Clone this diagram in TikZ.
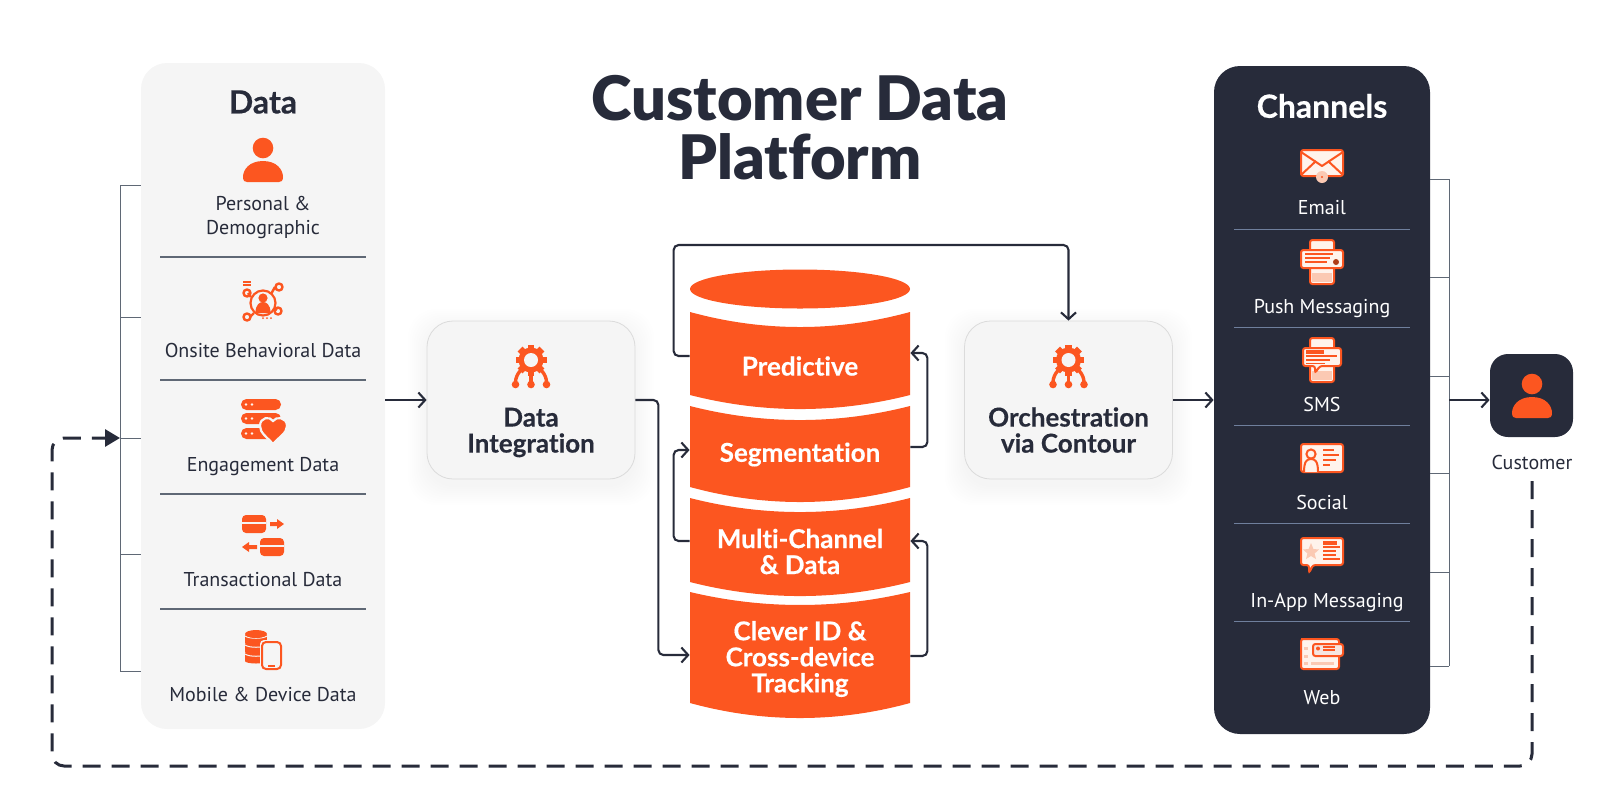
\documentclass[tikz,border=0pt]{standalone}
\usepackage{fontspec}
\usetikzlibrary{arrows.meta,calc}
\newfontfamily\latofont[Ligatures=NoCommon,BoldFeatures={FakeBold=0.35}]{Lato}
\newfontfamily\latoheavy[Ligatures=NoCommon]{Lato Black}
\newfontfamily\ptfont{PT Sans}
\definecolor{brandorange}{HTML}{FC5620}
\definecolor{brandnavy}{HTML}{272B3A}
\definecolor{panelgrey}{HTML}{F5F5F5}
\definecolor{ruleslate}{HTML}{5F6875}
\definecolor{rulesteel}{HTML}{6F7F9C}
\definecolor{iconcream}{HTML}{FFF3EC}
\definecolor{iconpink}{HTML}{FBC9B3}
\tikzset{
  ofill/.style={fill=brandorange,draw=none},
  oline/.style={draw=brandorange,line width=1pt,line join=round},
  cardicon/.style={draw=brandorange,fill=iconcream,line width=1pt,rounded corners=1.2pt},
  panelbox/.style={rectangle,rounded corners=13pt,minimum width=#1,inner sep=0pt},
  softbox/.style={rectangle,rounded corners=13pt,fill=panelgrey,draw=black!14,line width=.4pt,minimum width=104pt,minimum height=79pt,inner sep=0pt},
  headtext/.style={font=\latofont\bfseries\fontsize{16}{16}\selectfont,text=brandnavy,inner sep=0pt},
  boxtext/.style={font=\latofont\bfseries\fontsize{13}{13}\selectfont,text=brandnavy,align=center,inner sep=0pt},
  segtext/.style={font=\latofont\bfseries\fontsize{13}{13}\selectfont,text=white,align=center,inner sep=0pt,minimum width=110pt},
  itemtext/.style={font=\ptfont\fontsize{10}{12}\selectfont,text=brandnavy,align=center,inner sep=0pt},
  chantext/.style={font=\ptfont\fontsize{10}{12.2}\selectfont,text=white,align=center,inner sep=0pt},
  conn/.style={draw=brandnavy,line width=1.05pt,rounded corners=2.5pt,-{Straight Barb[length=3.4pt,width=7.5pt,line width=1.05pt]}},
  bracket/.style={draw=ruleslate,line width=.5pt},
  datarule/.style={draw=ruleslate,line width=.55pt},
  chanrule/.style={draw=rulesteel,line width=.45pt},
  dashedconn/.style={draw=brandnavy,line width=1.5pt,rounded corners=6pt,dash pattern=on 9pt off 5.5pt,-{Triangle[length=7.5pt,width=8.5pt]}}
}
\newcommand{\softshadow}[4]{%
  \foreach \d in {1,3,...,19}{%
    \fill[black,opacity=.004,rounded corners=14pt] ($(#1,#2)+(-\d,-\d+7)$) rectangle ($(#3,#4)+(\d,\d+7)$);}}
\newcommand{\personicon}[2]{\begin{scope}[shift={(#1,#2)}]
  \fill[brandorange] (0,-14) circle (10.3);
  \fill[brandorange] (-20,15) .. controls (-20,8) and (-14,-1) .. (0,-1) .. controls (14,-1) and (20,8) .. (20,15) .. controls (20,19) and (18,20) .. (16,20) -- (-16,20) .. controls (-18,20) and (-20,19) .. (-20,15) -- cycle;
\end{scope}}
\newcommand{\gearicon}[2]{\begin{scope}[shift={(#1,#2)}]
  \foreach \a in {0,45,...,315}{\fill[brandorange,rotate=\a] (-3.4,-15.5) rectangle (3.4,-9);}
  \fill[brandorange] (0,0) circle (12.5);
  \fill[panelgrey] (0,0) circle (7);
  \draw[brandorange,line width=1.7pt] (0,10) -- (0,24);
  \draw[brandorange,line width=1.7pt,rounded corners=3pt] (-8,8) -- (-15.5,16) -- (-15.5,24);
  \draw[brandorange,line width=1.7pt,rounded corners=3pt] (8,8) -- (15.5,16) -- (15.5,24);
  \foreach \x in {-15.5,0,15.5}{\fill[brandorange] (\x,24.5) circle (3.8);}
\end{scope}}
\newcommand{\onsiteicon}[2]{\begin{scope}[shift={(#1,#2)}]
  \draw[oline,line width=1.1pt] (0,1) circle (12.5);
  \fill[brandorange] (0,-4) circle (4.6);
  \fill[brandorange] (-7.5,11) .. controls (-7.5,2) and (-3,0) .. (0,0) .. controls (3,0) and (7.5,2) .. (7.5,11) -- cycle;
  \draw[oline,line width=1.2pt] (8,-8) -- (12,-15);
  \draw[oline,line width=1.2pt] (11,6) -- (14,8);
  \draw[oline,line width=1.2pt] (-12,-5) -- (-15,-9);
  \draw[oline,line width=1.2pt] (-9,11) -- (-13,15);
  \foreach \x/\y in {16/-15,15/9,-16/-9,-16/15}{\draw[oline,line width=1.2pt] (\x,\y) circle (3.5);}
  \foreach \y in {-20,-17}{\draw[oline,line width=.9pt] (-20,\y) -- (-12,\y);}
  \foreach \x in {0,4,8}{\fill[brandorange] (\x,16) circle (1);}
\end{scope}}
\newcommand{\engageicon}[2]{\begin{scope}[shift={(#1,#2)}]
  \foreach \y in {-15.5,-1.5,13.5}{
    \fill[brandorange,rounded corners=2.7pt] (-21,\y-5.5) rectangle (19,\y+5.5);
    \foreach \x in {-16,-10}{\fill[iconcream] (\x,\y) circle (1.3);}}
  \path[fill=brandorange,draw=panelgrey,line width=1.1pt] (11,24) .. controls (5,17) and (-2,13) .. (-2,6) .. controls (-2,-3) and (8,-4) .. (11,1) .. controls (14,-4) and (25,-3) .. (25,6) .. controls (25,13) and (17,17) .. (11,24) -- cycle;
\end{scope}}
\newcommand{\transicon}[2]{\begin{scope}[shift={(#1,#2)}]
  \fill[brandorange,rounded corners=2pt] (-21,-21) rectangle (3,-3);
  \fill[panelgrey] (-21,-14) rectangle (3,-12.5);
  \fill[brandorange,rounded corners=2pt] (-3,2) rectangle (21,20);
  \fill[panelgrey] (-3,9) rectangle (21,10.5);
  \fill[brandorange] (7,-14) -- (14,-14) -- (14,-17) -- (21,-12) -- (14,-7) -- (14,-10) -- (7,-10) -- cycle;
  \fill[brandorange] (-6,9) -- (-14,9) -- (-14,6) -- (-21,11) -- (-14,16) -- (-14,13) -- (-6,13) -- cycle;
\end{scope}}
\newcommand{\mobileicon}[2]{\begin{scope}[shift={(#1,#2)}]
  \foreach \y in {9,0,-9}{
    \fill[brandorange] (-18,\y-5) rectangle (4,\y+3);
    \fill[brandorange] (-7,\y+3) ellipse (11 and 2.5);
    \draw[panelgrey,line width=.5pt] (-18,\y-4) .. controls (-14,\y-1) and (0,\y-1) .. (4,\y-4);}
  \fill[brandorange] (-7,-15) ellipse (11 and 4);
  \fill[panelgrey,rounded corners=2pt] (-3,-9) rectangle (19,21);
  \draw[brandorange,line width=1pt,rounded corners=2pt] (-1,-7) rectangle (18,20);
  \fill[brandorange] (5,15.5) rectangle (12,17.5);
\end{scope}}
\newcommand{\emailicon}[2]{\begin{scope}[shift={(#1,#2)}]
  \draw[cardicon] (-21,-14) rectangle (21,12);
  \draw[oline] (-21,-12) -- (0,2) -- (21,-12);
  \draw[oline] (-21,11) -- (-6,-3);
  \draw[oline] (21,11) -- (6,-3);
  \fill[iconpink] (0,13) circle (6);
  \fill[brandorange] (0,13) circle (1.2);
\end{scope}}
\newcommand{\phonebody}{%
  \draw[cardicon] (-12,-22) rectangle (12,22);
  \fill[iconpink] (-10,11) rectangle (10,20);
  \draw[brandorange,line width=.6pt] (-10,6) -- (10,6);}
\newcommand{\pushicon}[2]{\begin{scope}[shift={(#1,#2)}]
  \phonebody
  \draw[cardicon] (-21,-12) rectangle (21,6);
  \foreach \y/\e in {-8/11,-4/8,0/5}{\draw[brandorange,line width=.8pt] (-17,\y) -- (\e,\y);}
  \fill[brandorange!70!black] (14,0) circle (3);
\end{scope}}
\newcommand{\smsicon}[2]{\begin{scope}[shift={(#1,#2)}]
  \phonebody
  \draw[cardicon] (-19,-12) -- (19,-12) -- (19,6) -- (-2,6) -- (-7,13) -- (-7,6) -- (-19,6) -- cycle;
  \fill[brandorange] (-16,-10) rectangle (2,-6.5);
  \foreach \y/\e in {-4/15,0/8,3.5/3}{\draw[brandorange,line width=.6pt] (-16,\y) -- (\e,\y);}
\end{scope}}
\newcommand{\socialicon}[2]{\begin{scope}[shift={(#1,#2)}]
  \draw[cardicon] (-21,-14) rectangle (21,14);
  \draw[oline,fill=iconcream] (-11,-4) circle (4.6);
  \draw[oline,fill=iconcream] (-18,14) .. controls (-18,3) and (-15,1) .. (-11,1) .. controls (-7,1) and (-4,3) .. (-4,14);
  \fill[brandorange] (1,-9) rectangle (12,-7.5);
  \fill[brandorange] (1,-4) rectangle (17,-2.5);
  \fill[brandorange] (1,1) rectangle (14,2.5);
  \fill[brandorange] (1,6) rectangle (8,7.5);
\end{scope}}
\newcommand{\inappicon}[2]{\begin{scope}[shift={(#1,#2)}]
  \draw[cardicon] (-21,-17) -- (21,-17) -- (21,10) -- (-9,10) -- (-13,18) -- (-13,10) -- (-21,10) -- cycle;
  \fill[iconpink] (-11,-12) -- (-8.6,-6) -- (-3,-5.5) -- (-7.4,-1.5) -- (-6,4) -- (-11,1) -- (-16,4) -- (-14.6,-1.5) -- (-19,-5.5) -- (-13.4,-6) -- cycle;
  \fill[brandorange] (1,-14) rectangle (15,-10.5);
  \foreach \y/\e in {-8/18,-4/14,0/14,4/18}{\draw[brandorange,line width=.7pt] (1,\y) -- (\e,\y);}
\end{scope}}
\newcommand{\webicon}[2]{\begin{scope}[shift={(#1,#2)}]
  \draw[cardicon] (-21,-15) rectangle (17,15);
  \fill[brandorange] (-21,-16) rectangle (-8,-14);
  \foreach \y in {-6,2,9}{\fill[iconpink] (-18,\y-1.5) rectangle (-14,\y+1.5);}
  \fill[iconpink] (-11,7.5) rectangle (12,10.5);
  \draw[cardicon,fill=panelgrey!90!brandorange] (-9,-10) rectangle (21,2);
  \fill[brandorange] (-4,-5.5) circle (2);
  \foreach \y in {-7,-4}{\draw[brandorange,line width=.6pt] (1,\y) -- (13,\y);}
\end{scope}}

\begin{document}
\begin{tikzpicture}[x=.5pt,y=-.5pt]
\useasboundingbox (0,0) rectangle (1600,800);

% title
\node[font=\latoheavy\fontsize{30.7}{29.5}\selectfont,text=brandnavy,align=center,inner sep=0pt] (title) at (800,128) {Customer Data\\Platform};

% Data panel
\node[panelbox=122pt,minimum height=333pt,fill=panelgrey] (data) at (263,396) {};
\node[headtext] (datahead) at (263,102) {Data};
\personicon{263}{162}
\node[itemtext] (personal) at (263,217.5) {Personal \&\\Demographic};
\onsiteicon{263}{302}
\node[itemtext] (onsite) at (263,350) {Onsite Behavioral Data};
\engageicon{262}{420}
\node[itemtext] (engage) at (263,467) {Engagement Data};
\transicon{263}{536}
\node[itemtext] (trans) at (263,580) {Transactional Data};
\mobileicon{263}{649}
\node[itemtext] (mobile) at (263,694) {Mobile \& Device Data};
\foreach \y [count=\i] in {257,380,494,609}{
  \coordinate (dl\i) at (160,\y);
  \draw[datarule] (dl\i) -- ++(206,0);
}

% left bracket
\coordinate (bl1) at (120,185);
\coordinate (bl2) at (120,317);
\coordinate (bl3) at (120,438);
\coordinate (bl4) at (120,554);
\coordinate (bl5) at (120,671);
\draw[bracket] (bl1) -- (bl5);
\foreach \i in {1,...,5}{\draw[bracket] (bl\i) -- (bl\i -| data.west);}

% Integration and Orchestration
\softshadow{427}{321}{635}{479}
\softshadow{964}{321}{1173}{479}
\node[softbox] (integ) at (531,400) {};
\gearicon{531}{360}
\node[boxtext] (integtext) at (531,432.5) {Data\\Integration};
\node[softbox] (orch) at (1068.5,400) {};
\gearicon{1068.5}{360}
\node[boxtext] (orchtext) at (1068.5,430) {Orchestration\\via Contour};

% Cylinder
\fill[brandorange] (800,289) ellipse (110 and 19.5);
\fill[brandorange] (690,312) .. controls (763,332) and (837,332) .. (910,312) -- (910,395) .. controls (837,413.7) and (763,413.7) .. (690,395) -- cycle;
\fill[brandorange] (690,406) .. controls (763,424.7) and (837,424.7) .. (910,406) -- (910,487) .. controls (837,507) and (763,507) .. (690,487) -- cycle;
\fill[brandorange] (690,498) .. controls (763,516.7) and (837,516.7) .. (910,498) -- (910,582) .. controls (837,600.7) and (763,600.7) .. (690,582) -- cycle;
\fill[brandorange] (690,592) .. controls (763,609.3) and (837,609.3) .. (910,592) -- (910,703) .. controls (837,723) and (763,723) .. (690,703) -- cycle;
\node[segtext] (pred) at (800,366) {Predictive};
\node[segtext] (segm) at (800,454.5) {Segmentation};
\node[segtext] (multi) at (800,551.5) {Multi-Channel\\\& Data};
\node[segtext] (clever) at (800,659) {Clever ID \&\\Cross-device\\Tracking};

% Channels panel
\node[panelbox=108pt,minimum height=334pt,fill=brandnavy] (chan) at (1322,400) {};
\node[headtext,text=white] (chanhead) at (1322,106) {Channels};
\emailicon{1322}{164}
\node[chantext] (email) at (1322,208) {Email};
\pushicon{1322}{262}
\node[chantext] (push) at (1322,309) {Push Messaging};
\smsicon{1322}{360}
\node[chantext] (sms) at (1322,404) {SMS};
\socialicon{1322}{458}
\node[chantext] (social) at (1322,502) {Social};
\inappicon{1322}{555}
\node[chantext] (inapp) at (1327,602) {In-App Messaging};
\webicon{1322}{654}
\node[chantext] (web) at (1322,698) {Web};
\foreach \y [count=\i] in {229,327,425,523,621}{
  \coordinate (cl\i) at (1234,\y);
  \draw[chanrule] (cl\i) -- ++(176,0);
}

% right bracket
\coordinate (br1) at (1449,179);
\coordinate (br2) at (1449,277);
\coordinate (br3) at (1449,376);
\coordinate (br4) at (1449,473);
\coordinate (br5) at (1449,572);
\coordinate (br6) at (1449,666);
\draw[bracket] (br1) -- (br6);
\foreach \i in {1,...,6}{\draw[bracket] (br\i -| chan.east) -- (br\i);}

% Customer
\node[rectangle,rounded corners=9pt,fill=brandnavy,minimum width=41.5pt,minimum height=41.5pt,inner sep=0pt] (cust) at (1531.5,395.5) {};
\personicon{1532}{398}
\node[itemtext] (custtext) at (1532,462) {Customer};

% connectors
\draw[conn] (integ.west -| data.east) -- (integ.west);
\draw[conn] (orch.east) -- (orch.east -| chan.west);
\draw[conn] ($(cust.west -| br1)+(0,4.5)$) -- ($(cust.west)+(0,4.5)$);
\draw[conn] (integ.east) -- ++(23,0) |- ($(clever.west)+(0,-4)$);
\draw[conn] ($(pred.west)+(0,-10)$) -- ++(-16,0) -- ++(0,-111) -| (orch.north);
\draw[conn] ($(multi.west)+(0,-10.5)$) -- ++(-16,0) |- ($(segm.west)+(0,-4.5)$);
\draw[conn] ($(segm.east)+(0,-7.5)$) -- ++(17,0) |- ($(pred.east)+(0,-13)$);
\draw[conn] ($(clever.east)+(0,-3)$) -- ++(17,0) |- ($(multi.east)+(0,-10.5)$);
\coordinate (dashstart) at (1532,481);
\coordinate (dashcorner) at (52,766);
\draw[dashedconn] (dashstart) |- (dashcorner) |- (bl3);
\end{tikzpicture}
\end{document}
